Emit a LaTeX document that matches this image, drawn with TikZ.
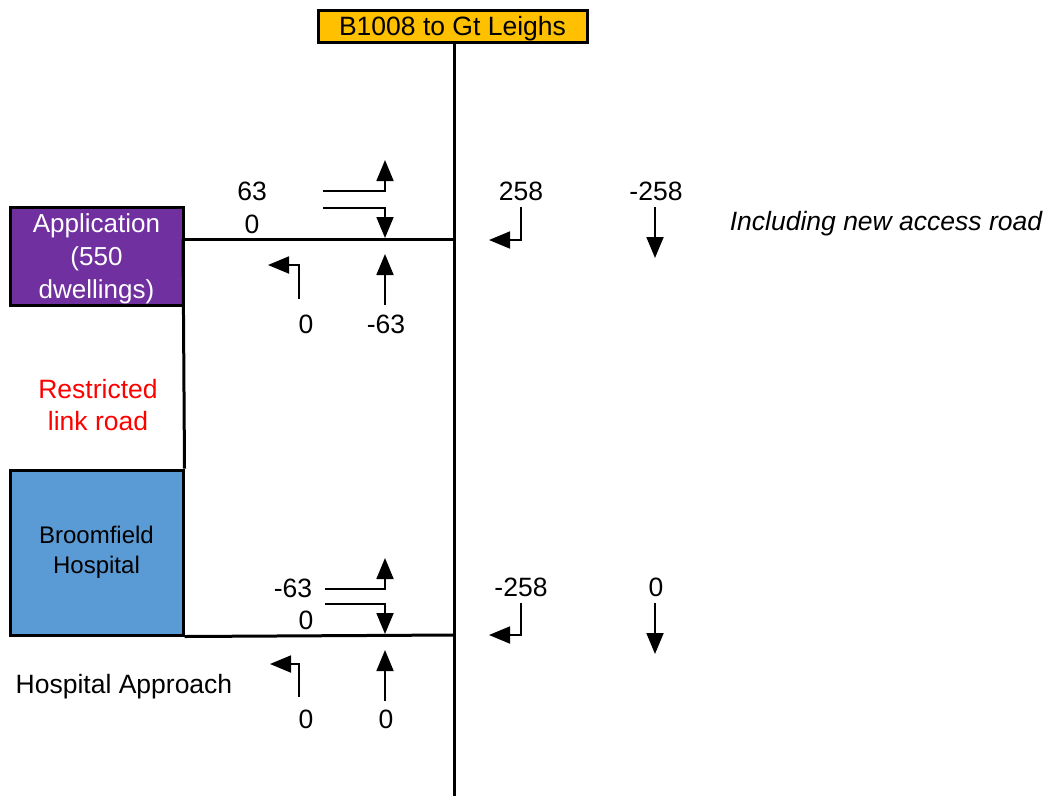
\documentclass[tikz,border=0pt]{standalone}
\usepackage{fontspec}
\setmainfont{Liberation Sans}
\usetikzlibrary{arrows.meta}
\definecolor{roadorange}{HTML}{FFC000}
\definecolor{apppurple}{HTML}{7030A0}
\definecolor{hospblue}{HTML}{5B9BD5}
\begin{document}
\begin{tikzpicture}[x=1pt,y=-1pt,
  road/.style={line width=3pt},
  flow/.style={line width=1.8pt,-{Triangle[length=21pt,width=17pt]}},
  num/.style={font=\fontsize{26.5}{31}\selectfont,inner sep=0pt},
  boxed/.style={draw=black,line width=3pt,inner sep=0pt,align=center}]
\useasboundingbox (0,0) rectangle (1051,796);
% boxes
\node[boxed,fill=roadorange,minimum width=269,minimum height=32,text depth=0pt,font=\fontsize{26.5}{30}\selectfont] (b1008) at (452.5,26) {B1008 to Gt Leighs};
\node[boxed,fill=apppurple,text=white,minimum width=173,minimum height=98,font=\fontsize{26}{33}\selectfont] (app) at (96.5,256) {\rule{0pt}{24pt}Application\\(550\\dwellings)};
\node[boxed,fill=hospblue,minimum width=173,minimum height=165,font=\fontsize{24}{30}\selectfont] (hosp) at (96.5,552.5) {Broomfield\\Hospital};
% road coordinates
\coordinate (mainbot) at (454,796);
\coordinate (topj) at (454,239);
\coordinate (topw) at (183,239);
\coordinate (botj) at (454,635);
% roads
\draw[road] (b1008.south -| mainbot) -- (mainbot);
\draw[road] (topw) -- (topj);
\draw[road] (topw) -- (hosp.north east);
\draw[road] (hosp.south east) -- (botj);
% labels
\node[text=red,align=center,font=\fontsize{26.5}{32}\selectfont] (restr) at (98,405) {Restricted\\link road};
\node[num] (hosapp) at (124,687) {Hospital Approach};
\node[num,font=\fontsize{26.5}{31}\itshape] (incl) at (886,224) {Including new access road};
% ---- top junction
\node[num] (t63) at (252,191) {63};
\node[num] (t0a) at (252,224) {0};
\coordinate (a1s) at (323,191); \coordinate (a1c) at (385,191); \coordinate (a1e) at (385,160);
\draw[flow] (a1s) -- (a1c) -- (a1e);
\coordinate (a2s) at (323,208); \coordinate (a2c) at (385,208); \coordinate (a2e) at (385,238);
\draw[flow] (a2s) -- (a2c) -- (a2e);
\coordinate (a3s) at (385,305); \coordinate (a3e) at (385,254);
\draw[flow] (a3s) -- (a3e);
\coordinate (a4s) at (299,299); \coordinate (a4c) at (299,265); \coordinate (a4e) at (268,265);
\draw[flow] (a4s) -- (a4c) -- (a4e);
\node[num] (t0b) at (306,324) {0};
\node[num] (tm63) at (386,324) {-63};
\node[num] (t258) at (521,191) {258};
\coordinate (a5s) at (521,207); \coordinate (a5c) at (521,240); \coordinate (a5e) at (489,240);
\draw[flow] (a5s) -- (a5c) -- (a5e);
\node[num] (tm258) at (656,191) {-258};
\coordinate (a6s) at (655,207); \coordinate (a6e) at (655,258);
\draw[flow] (a6s) -- (a6e);
% ---- bottom junction
\node[num] (bm63) at (293,588) {-63};
\node[num] (b0a) at (306,620) {0};
\coordinate (b1s) at (325,589); \coordinate (b1c) at (385,589); \coordinate (b1e) at (385,558);
\draw[flow] (b1s) -- (b1c) -- (b1e);
\coordinate (b2s) at (325,604); \coordinate (b2c) at (385,604); \coordinate (b2e) at (385,634);
\draw[flow] (b2s) -- (b2c) -- (b2e);
\coordinate (b3s) at (385,701); \coordinate (b3e) at (385,650);
\draw[flow] (b3s) -- (b3e);
\coordinate (b4s) at (299,697); \coordinate (b4c) at (299,664); \coordinate (b4e) at (270,664);
\draw[flow] (b4s) -- (b4c) -- (b4e);
\node[num] (b0b) at (306,719) {0};
\node[num] (b0c) at (386,719) {0};
\node[num] (bm258) at (521,587) {-258};
\coordinate (b5s) at (521,603); \coordinate (b5c) at (521,635); \coordinate (b5e) at (489,635);
\draw[flow] (b5s) -- (b5c) -- (b5e);
\node[num] (b0d) at (656,587) {0};
\coordinate (b6s) at (655,603); \coordinate (b6e) at (655,654);
\draw[flow] (b6s) -- (b6e);
\end{tikzpicture}
\end{document}
